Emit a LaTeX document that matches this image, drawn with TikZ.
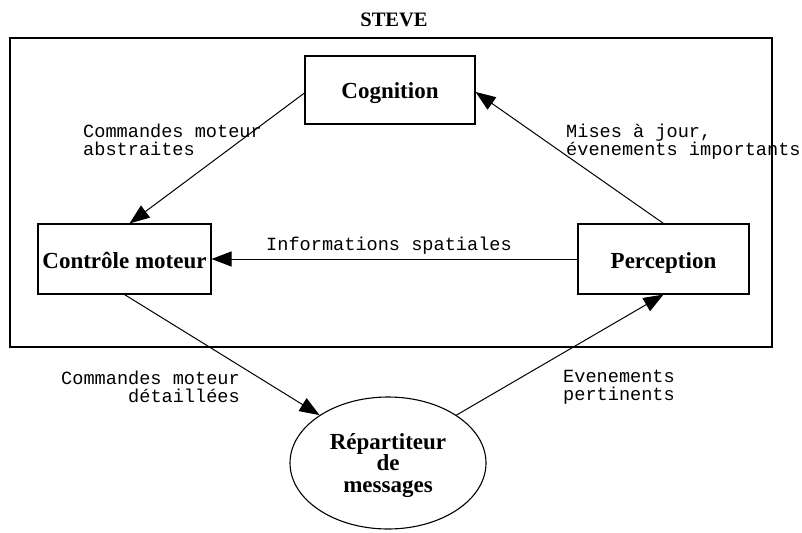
\documentclass[tikz,border=0pt]{standalone}
\usepackage{fontspec}
\setmainfont{Liberation Serif}
\newfontfamily\monof{Liberation Mono}
\usetikzlibrary{arrows.meta,shapes.geometric}
\begin{document}
\begin{tikzpicture}[x=1pt,y=-1pt,
  box/.style={draw,line width=1.1pt,inner sep=0pt,text height=18pt,text depth=0pt,font=\fontsize{23}{22}\selectfont\bfseries},
  lbl/.style={inner sep=0pt,align=left,font=\monof\fontsize{18.6}{18}\selectfont},
  conn/.style={line width=1pt,-{Triangle[length=20pt,width=15pt]}}]
\useasboundingbox (0,0) rectangle (802,532);
\node[draw,line width=1.1pt,minimum width=762,minimum height=309,inner sep=0pt] (cluster) at (391,192.5) {};
\node[inner sep=0pt,anchor=base,font=\fontsize{20.5}{20}\selectfont\bfseries] (title) at (394,27) {STEVE};
\node[box,minimum width=170,minimum height=68] (cog) at (390,90) {Cognition};
\node[box,minimum width=173,minimum height=70] (ctrl) at (124.5,259) {Contrôle moteur};
\node[box,minimum width=171,minimum height=70] (perc) at (663.5,259) {Perception};
\node[draw,ellipse,line width=1.1pt,minimum width=196,minimum height=132,inner sep=0pt,align=center,text depth=0pt,font=\fontsize{23}{21.5}\selectfont\bfseries] (rep) at (388,463) {Répartiteur\\de\\messages};
\draw[conn] ([yshift=-3pt]cog.west) -- ([xshift=5pt]ctrl.north);
\draw[conn] (perc.north) -- ([yshift=-2pt]cog.east);
\draw[conn] (perc.west) -- (ctrl.east);
\draw[conn] (ctrl.south) -- (rep.145);
\draw[conn] (rep.35) -- (perc.south);
\node[lbl,anchor=north west] (l1) at (83,124) {Commandes moteur\\abstraites};
\node[lbl,anchor=north west] (l2) at (566,124) {Mises à jour,\\évenements importants};
\node[lbl,anchor=base] (l3) at (389,250) {Informations spatiales};
\node[lbl,anchor=north east,align=right] (l4) at (240,371) {Commandes moteur\\détaillées};
\node[lbl,anchor=north west] (l5) at (563,370) {Evenements\\pertinents};
\end{tikzpicture}
\end{document}
